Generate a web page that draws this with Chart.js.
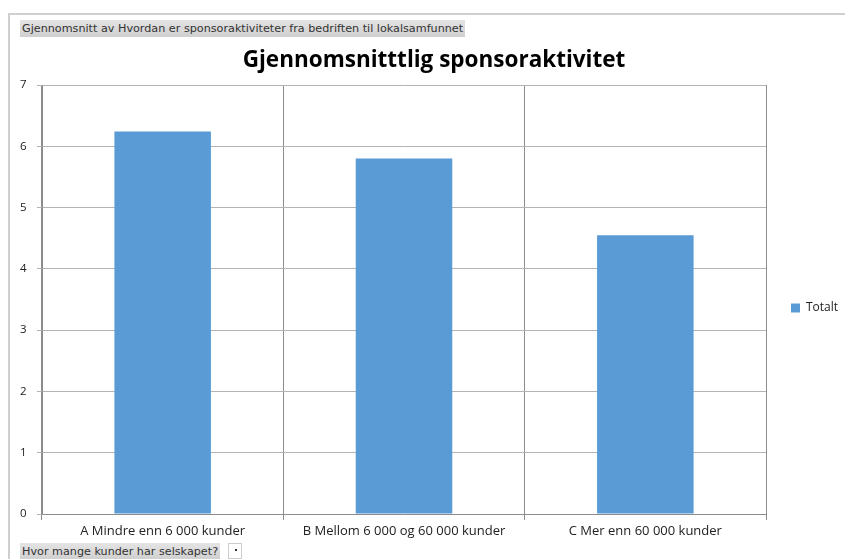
<!DOCTYPE html>
<html>
<head>
<meta charset="utf-8">
<script src="https://cdn.jsdelivr.net/npm/chart.js@4"></script>
<style>
  html, body { margin: 0; padding: 0; background: #fff; }
  #wrap { position: relative; width: 845px; height: 559px; overflow: hidden; }
  #myChart { position: absolute; left: 0; top: 0; }
  .frame-top { position: absolute; left: 9px; top: 13px; width: 836px; height: 2px; background: #cfcfcf; }
  .frame-left { position: absolute; left: 8px; top: 13px; width: 2px; height: 546px; background: #cfcfcf; }
  .field {
    position: absolute; background: linear-gradient(#e4e4e4, #cfcfcf);
    font-family: "DejaVu Sans", Verdana, sans-serif; font-size: 11.2px; color: #333;
    line-height: 17px; padding: 0 2px; white-space: nowrap;
  }
  .dd { position: absolute; left: 228px; top: 543px; width: 14px; height: 16px; border: 1px solid #ccc; background: #fff; box-sizing: border-box; }
  .dd::after { content: ""; position: absolute; left: 6px; top: 5px; width: 2px; height: 2px; background: #333; }
</style>
</head>
<body>
<div id="wrap">
  <canvas id="myChart" width="845" height="559"></canvas>
  <div class="frame-top"></div>
  <div class="frame-left"></div>
  <div class="field" style="left:20px; top:20px;">Gjennomsnitt av Hvordan er sponsoraktiviteter fra bedriften til lokalsamfunnet</div>
  <div class="field" style="left:20px; top:543px;">Hvor mange kunder har selskapet?</div>
  <div class="dd"></div>
</div>
<script>
// Chart values
const categories = [
  "A Mindre enn 6 000 kunder",
  "B Mellom 6 000 og 60 000 kunder",
  "C Mer enn 60 000 kunder",
];
const seriesName = "Totalt";
const totalValues = [6.24, 5.80, 4.55];
const yTicks = [0, 1, 2, 3, 4, 5, 6, 7];

const barColor = "#5b9bd5";
const gridColor = "#b3b3b3";
const axisColor = "#8c8c8c";

const ctx = document.getElementById("myChart");

new Chart(ctx, {
  type: "bar",
  data: {
    labels: categories,
    datasets: [
      {
        label: seriesName,
        data: totalValues,
        backgroundColor: barColor,
        borderWidth: 0,
        categoryPercentage: 1.0,
        barPercentage: 0.4,
      },
    ],
  },
  options: {
    responsive: false,
    animation: false,
    layout: {
      padding: { top: 57, left: 23, right: 0, bottom: 0 },
    },
    plugins: {
      title: {
        display: true,
        text: "Gjennomsnitttlig sponsoraktivitet",
        color: "#000",
        font: { family: "'Open Sans', sans-serif", size: 22.5, weight: "bold" },
        padding: { top: -10, bottom: 11 }, // pulls the title up, legend stays centred lower
      },
      legend: {
        position: "right",
        maxWidth: 79, // keeps the plot's right edge where the original has it
        labels: {
          boxWidth: 9,
          boxHeight: 9,
          padding: 25,
          color: "#222",
          font: { family: "'Open Sans', sans-serif", size: 12 },
        },
      },
      tooltip: { enabled: false },
    },
    scales: {
      x: {
        grid: {
          display: true,
          offset: true,
          color: axisColor,
          tickLength: 6,
        },
        border: { color: axisColor },
        ticks: {
          color: "#222",
          padding: 3,
          font: { family: "'Open Sans', sans-serif", size: 13 },
        },
        afterFit: (scale) => {
          scale.height = 45;
        },
      },
      y: {
        min: 0,
        max: 7,
        afterBuildTicks: (scale) => {
          scale.ticks = yTicks.map((v) => ({ value: v }));
        },
        grid: {
          color: gridColor,
          tickLength: 5,
        },
        border: { color: axisColor },
        ticks: {
          color: "#222",
          mirror: true, // mirrored + negative padding puts labels left of the axis without clipping
          padding: -22,
          font: { family: "'Open Sans', sans-serif", size: 11.5 },
        },
        afterFit: (scale) => {
          scale.width = 19;
        },
      },
    },
  },
});
</script>
</body>
</html>
